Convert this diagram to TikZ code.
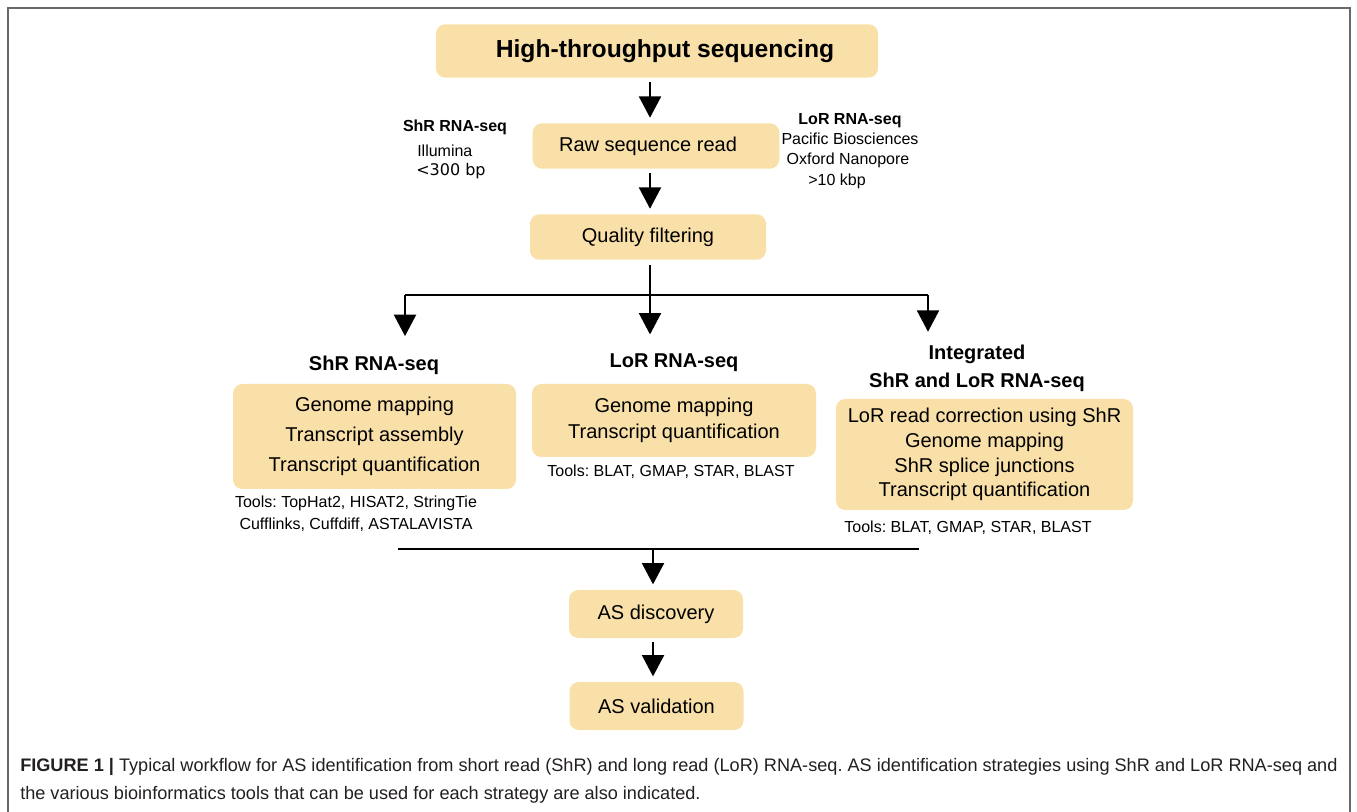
\documentclass[tikz,border=0pt]{standalone}
\usepackage{fontspec}
\setmainfont{Liberation Sans}
\newfontfamily\dejavu{DejaVu Sans}
\usetikzlibrary{arrows.meta}
\definecolor{boxfill}{RGB}{249,224,168}
\definecolor{framegray}{RGB}{105,105,105}
\definecolor{captext}{RGB}{35,31,32}
\frenchspacing
\begin{document}
\begin{tikzpicture} [x=0.75pt, y=-0.75pt,
		stage/.style={fill=boxfill, rounded corners=7pt, align=center, inner sep=0pt, font=\fontsize{15}{18}\selectfont},
		head/.style={align=center, inner sep=0pt, font=\fontsize{15}{21}\selectfont\bfseries},
		side/.style={align=center, inner sep=0pt, font=\fontsize{12}{14}\selectfont},
		tools/.style={align=center, inner sep=0pt, font=\fontsize{12}{16.5}\selectfont},
		link/.style={line width=1.5pt},
		flow/.style={link, -{Triangle[width=16.5pt,length=16pt]}}]
				\useasboundingbox (0,0) rectangle (1357,812);
				\draw[framegray, line width=1.5pt] (7.5,812) -- (7.5,8.5) -- (1349.5,8.5) -- (1349.5,812);
				\node[stage, minimum width=331.5pt, minimum height=40pt, font=\fontsize{18.5}{22}\selectfont\bfseries] (hts) at (657,51) {\hspace*{12pt}High-throughput sequencing};
				\node[stage, minimum width=185pt, minimum height=34pt] (raw) at (656,146) {Raw sequence read\hspace*{12pt}};
				\node[stage, minimum width=177pt, minimum height=34pt] (qf) at (648,237) {Quality filtering};
				\coordinate (spine) at (650,0);
				\draw[flow, shorten <=3pt, shorten >=4pt] (hts.south -| spine) -- (raw.north -| spine);
				\draw[flow, shorten <=3pt, shorten >=4pt] (raw.south -| spine) -- (qf.north -| spine);
				\node[side, font=\fontsize{12}{14}\selectfont\bfseries] (shrside) at (455,127) {ShR RNA-seq};
				\node[side, anchor=west] (illumina) at (417,151) {Illumina};
				\node[side, anchor=west, font=\dejavu\fontsize{12}{14}\selectfont] (shrlen) at (416,171) {<300 bp};
				\node[side, font=\fontsize{12}{14}\selectfont\bfseries] (lorside) at (850,121) {LoR RNA-seq};
				\node[side] (pacbio) at (850,139) {Pacific Biosciences};
				\node[side] (ont) at (848,160) {Oxford Nanopore};
				\node[side] (lorlen) at (837,181) {>10 kbp};
				\coordinate (split) at (650,295);
				\coordinate (splitL) at (405,295);
				\coordinate (splitR) at (928,295);
				\draw[link, shorten <=4pt] (qf.south -| split) -- (split);
				\draw[link] (splitL) -- (splitR);
				\node[head] (shrhead) at (374,365) {ShR RNA-seq};
				\node[head] (lorhead) at (674,363) {LoR RNA-seq};
				\node[head] (inthead) at (977,368) {Integrated\\ShR and LoR RNA-seq};
				\draw[flow, shorten >=14.5pt] (splitL) -- (shrhead.north -| splitL);
				\draw[flow, shorten >=14.5pt] (split) -- (lorhead.north -| split);
				\draw[flow, shorten >=9.5pt] (splitR) -- (inthead.north -| splitR);
				\node[stage, minimum width=212.25pt, minimum height=78.75pt, font=\fontsize{15}{22.5}\selectfont] (shrbox) at (374.5,436.5) {Genome mapping\\Transcript assembly\\Transcript quantification};
				\node[stage, minimum width=213pt, minimum height=54.75pt, font=\fontsize{15}{19.5}\selectfont] (lorbox) at (674,420.5) {Genome mapping\\Transcript quantification};
				\node[stage, minimum width=222.75pt, minimum height=83.25pt, font=\fontsize{15}{18.5}\selectfont] (intbox) at (984.5,454.5) {LoR read correction using ShR\\Genome mapping\\ShR splice junctions\\Transcript quantification};
				\node[tools] (shrtools) at (356,514) {Tools: TopHat2, HISAT2, StringTie\\Cufflinks, Cuffdiff, ASTALAVISTA};
				\node[tools] (lortools) at (671,472) {Tools: BLAT, GMAP, STAR, BLAST};
				\node[tools] (inttools) at (968,528) {Tools: BLAT, GMAP, STAR, BLAST};
				\coordinate (mergeL) at (398,549);
				\coordinate (mergeR) at (919,549);
				\coordinate (merge) at (653,549);
				\draw[link] (mergeL) -- (mergeR);
				\node[stage, minimum width=130.5pt, minimum height=36pt] (asd) at (656,614) {AS discovery};
				\node[stage, minimum width=130.5pt, minimum height=36pt] (asv) at (656.5,706) {AS validation};
				\draw[flow, shorten >=4pt] (merge) -- (asd.north -| merge);
				\draw[flow, shorten <=3pt, shorten >=4pt] (asd.south -| merge) -- (asv.north -| merge);
				\node[anchor=west, align=left, inner sep=0pt, text=captext, font=\fontsize{13.6}{21}\selectfont] (caption) at (20,781) {\textbf{FIGURE 1 |} Typical workflow for AS identification from short read (ShR) and long read (LoR) RNA-seq. AS identification strategies using ShR and LoR RNA-seq and\\the various bioinformatics tools that can be used for each strategy are also indicated.};
			\end{tikzpicture}
\end{document}
